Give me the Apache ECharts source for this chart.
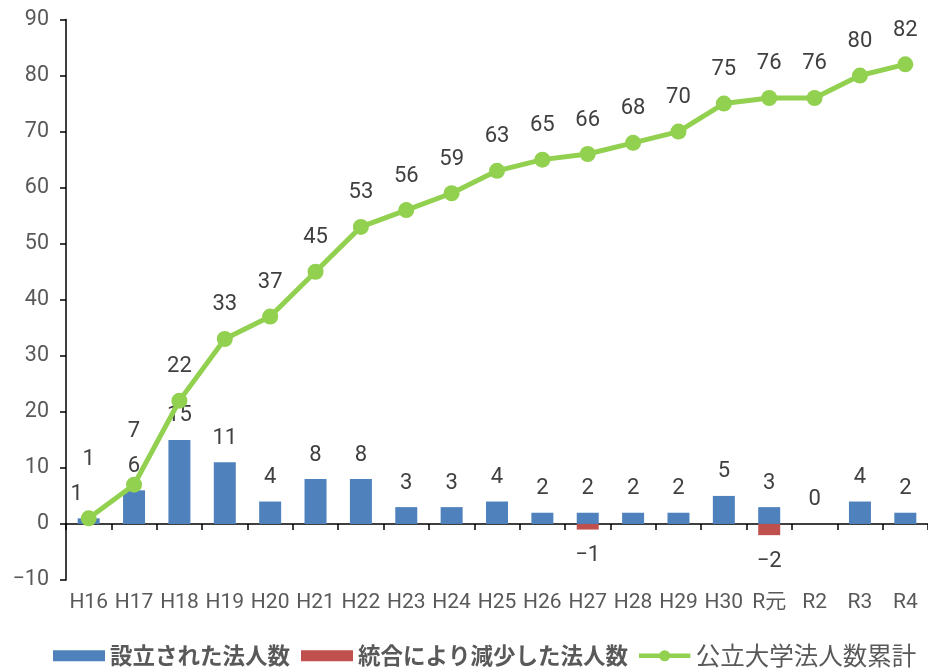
<!DOCTYPE html>
<html>
<head>
<meta charset="utf-8">
<script src="https://cdn.jsdelivr.net/npm/echarts@6/dist/echarts.min.js"></script>
<style>html,body{margin:0;padding:0;background:#fff}#c{width:928px;height:668px}</style>
</head>
<body>
<div id="c"></div>
<script>
const categories = ['H16','H17','H18','H19','H20','H21','H22','H23','H24','H25','H26','H27','H28','H29','H30','R元','R2','R3','R4'];
const established = [1,6,15,11,4,8,8,3,3,4,2,2,2,2,5,3,0,4,2];
const merged = [null,null,null,null,null,null,null,null,null,null,null,-1,null,null,null,-2,null,null,null];
const cumulative = [1,7,22,33,37,45,53,56,59,63,65,66,68,70,75,76,76,80,82];
const yTicks = {min:-10, max:90, interval:10};
const seriesNames = ['設立された法人数','統合により減少した法人数','公立大学法人数累計'];

const FONT = 'Roboto, "Noto Sans CJK JP", sans-serif';
const LFONT = '"Noto Sans CJK JP", sans-serif';
const fmt = v => (v < 0 ? '\u2212' + Math.abs(v) : String(v));

const chart = echarts.init(document.getElementById('c'), null, {renderer:'canvas'});

const estData = established.map((v,i) => i === 0 ? {value:v, label:{offset:[-12,0]}} : v);
const lineData = cumulative.map((v,i) => {
  if (i === 0) return {value:v, label:{offset:[0,-25]}};
  if (i === 1) return {value:v, label:{offset:[0,-19]}};
  return v;
});

const lineIcon = 'path://M0,3.6 L56,3.6 L56,8.4 L0,8.4 Z M34,6 A6,6 0 1,1 22,6 A6,6 0 1,1 34,6 Z';

chart.setOption({
  animation:false,
  textStyle:{fontFamily:FONT},
  grid:{left:66, right:0, top:19.5, bottom:88, containLabel:false},
  legend:{
    left:53, bottom:0, padding:0, itemWidth:52, itemHeight:11, itemGap:11,
    textStyle:{fontSize:22.5, color:'#595959', fontFamily:LFONT},
    data:[
      {name:seriesNames[0], icon:'rect', textStyle:{fontWeight:'bold'}},
      {name:seriesNames[1], icon:'rect', textStyle:{fontWeight:'bold'}},
      {name:seriesNames[2], icon:lineIcon, itemStyle:{color:'#92D050'}, textStyle:{fontSize:24.5}}
    ]
  },
  xAxis:[
    {type:'category', data:categories, position:'bottom',
     axisLine:{onZero:true, lineStyle:{color:'#000', width:1.5}},
     axisTick:{show:true, inside:false, length:6, lineStyle:{color:'#000', width:1.5}, alignWithLabel:false},
     axisLabel:{show:false}, splitLine:{show:false}},
    {type:'category', data:categories, position:'bottom', offset:0,
     axisLine:{show:false, onZero:false}, axisTick:{show:false},
     axisLabel:{show:true, color:'#595959', fontSize:21, margin:12, interval:0, fontFamily:FONT},
     splitLine:{show:false}}
  ],
  yAxis:{
    type:'value', min:yTicks.min, max:yTicks.max, interval:yTicks.interval,
    axisLine:{show:true, lineStyle:{color:'#000', width:1.5}},
    axisTick:{show:true, length:6, lineStyle:{color:'#000', width:1.5}},
    axisLabel:{color:'#595959', fontSize:21.5, margin:17, formatter:v => fmt(v)},
    splitLine:{show:false}
  },
  series:[
    {name:seriesNames[0], type:'bar', xAxisIndex:0, data:estData, barWidth:22, barGap:'-100%',
     itemStyle:{color:'#4F81BD'},
     label:{show:true, position:'top', distance:13, color:'#404040', fontSize:22, formatter:p => fmt(p.value)}},
    {name:seriesNames[1], type:'bar', xAxisIndex:0, data:merged, barWidth:22, barGap:'-100%',
     itemStyle:{color:'#C0504D'},
     label:{show:true, position:'bottom', distance:15, color:'#404040', fontSize:22, formatter:p => fmt(p.value)}},
    {name:seriesNames[2], type:'line', xAxisIndex:0, data:lineData, z:5,
     symbol:'circle', symbolSize:16, lineStyle:{color:'#92D050', width:5},
     itemStyle:{color:'#92D050'},
     label:{show:true, position:'top', distance:15, color:'#404040', fontSize:22}}
  ]
});
</script>
</body>
</html>
